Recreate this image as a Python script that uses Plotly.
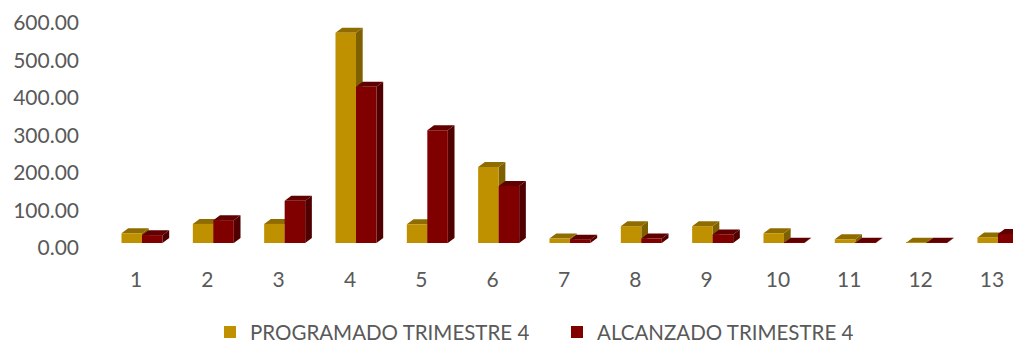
import plotly.graph_objects as go

categories = list(range(1, 14))
programado = [26, 51, 51, 561, 50, 203, 12, 45, 45, 26, 10, 1, 15]
alcanzado = [21, 61, 113, 417, 301, 152, 9, 12, 23, 1, 1, 1, 24]
tick_values = [0, 100, 200, 300, 400, 500, 600]
tick_labels = ["0.00", "100.00", "200.00", "300.00", "400.00", "500.00", "600.00"]

PX_X = 71.33
PX_Y = 0.375
BAR_W = 20.5 / PX_X
SPLIT = 6 / PX_X
DEPTH_X = 6.7 / PX_X
DEPTH_Y = 5 / PX_Y
GOLD, GOLD_TOP, GOLD_SIDE = "#BF9000", "#8F6C00", "#7F6000"
RED, RED_TOP, RED_SIDE = "#800000", "#600000", "#500000"


def faces(values, offset, top, side):
    out = []
    for c, v in zip(categories, values):
        x0 = c + offset
        x1 = x0 + BAR_W
        side_path = (f"M{x1},0 L{x1 + DEPTH_X},{DEPTH_Y} L{x1 + DEPTH_X},{v + DEPTH_Y} L{x1},{v} Z")
        top_path = (f"M{x0},{v} L{x0 + DEPTH_X},{v + DEPTH_Y} L{x1 + DEPTH_X},{v + DEPTH_Y} L{x1},{v} Z")
        for p, col in ((side_path, side), (top_path, top)):
            out.append(dict(type="path", path=p, xref="x", yref="y", fillcolor=col,
                            line=dict(width=0), layer="below"))
    return out


fig = go.Figure()
fig.add_bar(x=categories, y=programado, name="PROGRAMADO TRIMESTRE 4", marker_color=GOLD,
            marker_line_width=0, width=BAR_W, offset=SPLIT - BAR_W, legend="legend", showlegend=True)
fig.add_bar(x=categories, y=alcanzado, name="ALCANZADO TRIMESTRE 4", marker_color=RED,
            marker_line_width=0, width=BAR_W, offset=SPLIT, legend="legend2", showlegend=True)

LEGEND_Y = -0.178
fig.update_layout(
    width=1013, height=345, autosize=False,
    margin=dict(l=100, r=0, t=0, b=80, autoexpand=False),
    paper_bgcolor="white", plot_bgcolor="white",
    barmode="overlay",
    font=dict(family="Lato", size=21, color="#595959"),
    shapes=faces(programado, SPLIT - BAR_W, GOLD_TOP, GOLD_SIDE) + faces(alcanzado, SPLIT, RED_TOP, RED_SIDE),
    xaxis=dict(range=[1 + (100 - 136) / PX_X, 1 + (1013 - 136) / PX_X], tickmode="array",
               tickvals=categories, showgrid=False, zeroline=False, showline=False, ticks="",
               ticklabelstandoff=0),
    yaxis=dict(range=[(243 - 265) / PX_Y, 243 / PX_Y], tickmode="array",
               tickvals=[t - DEPTH_Y for t in tick_values], ticktext=tick_labels,
               showgrid=False, zeroline=False, showline=False, ticklabelstandoff=20),
    legend=dict(x=(210 - 100) / 913, xanchor="left", y=LEGEND_Y, yanchor="top",
                font=dict(size=20.5), itemwidth=30),
    legend2=dict(x=(557 - 100) / 913, xanchor="left", y=LEGEND_Y, yanchor="top",
                 font=dict(size=20.5), itemwidth=30),
)
fig.write_html("out.html", config=dict(displayModeBar=False),
               post_script="document.body.style.margin='0';document.body.style.overflow='hidden';")
